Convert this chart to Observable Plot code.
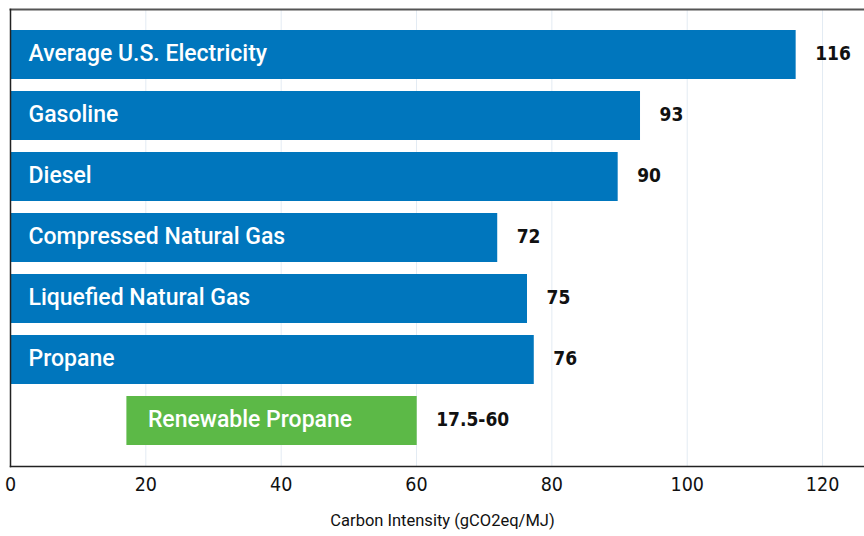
<!DOCTYPE html>
<html>
<head>
<meta charset="utf-8">
<script src="https://cdn.jsdelivr.net/npm/d3@7"></script>
<script src="https://cdn.jsdelivr.net/npm/@observablehq/plot@0.6"></script>
<style>
  html, body { margin: 0; padding: 0; background: #fff; }
  #chart svg { display: block; }
</style>
</head>
<body>
<div id="chart"></div>
<script>
const fuels = ["Average U.S. Electricity", "Gasoline", "Diesel", "Compressed Natural Gas", "Liquefied Natural Gas", "Propane", "Renewable Propane"];
const lowValues = [0, 0, 0, 0, 0, 0, 17.2];
const highValues = [116.1, 93.1, 89.8, 72.0, 76.4, 77.4, 60.1];
const valueLabels = ["116", "93", "90", "72", "75", "76", "17.5-60"];
const kinds = ["conventional", "conventional", "conventional", "conventional", "conventional", "conventional", "renewable"];
const xTicks = [0, 20, 40, 60, 80, 100, 120];
const axisTitle = "Carbon Intensity (gCO2eq/MJ)";

const data = fuels.map((f, i) => ({fuel: f, lo: lowValues[i], hi: highValues[i], label: valueLabels[i], kind: kinds[i]}));

const nameFont = "Roboto, 'DejaVu Sans Condensed', sans-serif";
const numFont = "'DejaVu Sans Condensed', 'DejaVu Sans', sans-serif";

const chart = Plot.plot({
  width: 864,
  height: 536,
  marginTop: 9,
  marginBottom: 70,
  marginLeft: 10,
  marginRight: 0,
  style: {background: "#fff", overflow: "visible"},
  x: {domain: [0, 126.2], axis: null},
  y: {domain: fuels, paddingInner: 0.19, paddingOuter: 0.326, axis: null},
  color: {domain: ["conventional", "renewable"], range: ["#0076bd", "#5cb947"]},
  marks: [
    Plot.ruleX(xTicks.filter(d => d > 0), {stroke: "#e3ebf3", strokeWidth: 1}),
    Plot.barX(data, {x1: "lo", x2: "hi", y: "fuel", fill: "kind"}),
    Plot.text(data.filter(d => d.kind === "conventional"), {
      x: "lo", y: "fuel", text: "fuel", textAnchor: "start", dx: 18, dy: -1,
      fill: "white", fontSize: 23, fontWeight: 500, fontFamily: nameFont
    }),
    Plot.text(data.filter(d => d.kind === "renewable"), {
      x: "lo", y: "fuel", text: "fuel", textAnchor: "start", dx: 21, dy: -1,
      fill: "white", fontSize: 23, fontWeight: 500, fontFamily: nameFont
    }),
    Plot.text(data, {
      x: "hi", y: "fuel", text: "label", textAnchor: "start", dx: 19, dy: -1,
      fill: "#111", fontSize: 19, fontWeight: "bold", fontFamily: numFont
    }),
    Plot.frame({anchor: "top", stroke: "#555", strokeWidth: 2}),
    Plot.frame({anchor: "left", stroke: "#222", strokeWidth: 1.5}),
    Plot.frame({anchor: "bottom", stroke: "#222", strokeWidth: 1.5}),
    Plot.axisX(xTicks, {
      tickSize: 0, tickPadding: 11, label: null,
      fontSize: 19.5, fontFamily: numFont, fill: "#111"
    }),
    Plot.text([axisTitle], {
      frameAnchor: "bottom", dx: 5, dy: 59, fill: "#111",
      fontSize: 16.5, fontFamily: nameFont
    })
  ]
});

document.getElementById("chart").appendChild(chart);
</script>
</body>
</html>
